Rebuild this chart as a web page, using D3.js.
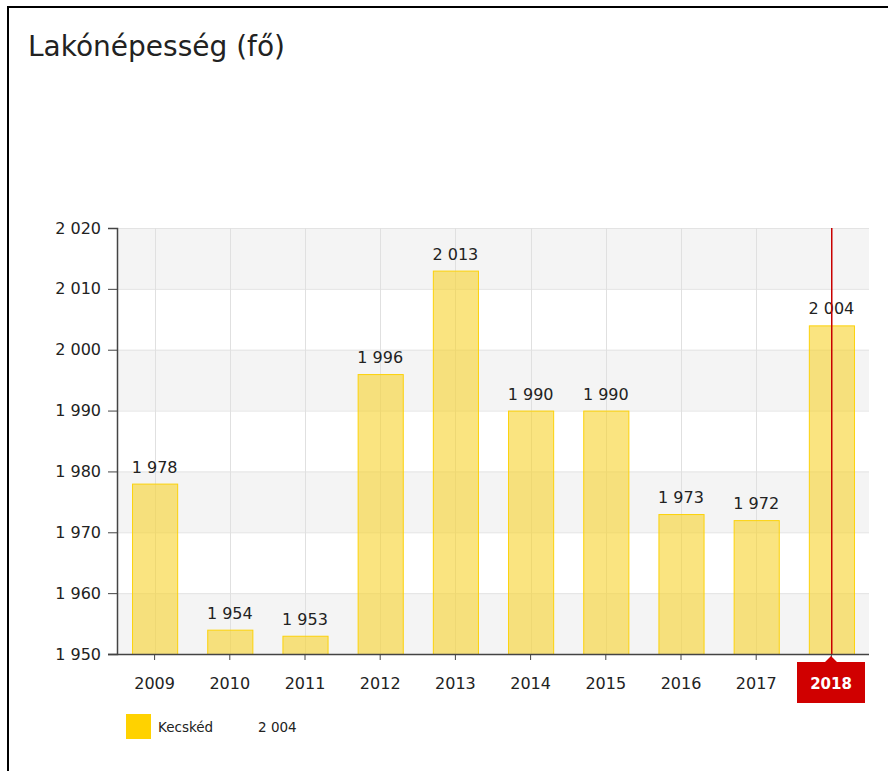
<!DOCTYPE html>
<html>
<head>
<meta charset="utf-8">
<script src="https://cdn.jsdelivr.net/npm/d3@7"></script>
<style>
  html, body { margin: 0; padding: 0; background: #fff; }
  svg { display: block; }
</style>
</head>
<body>
<svg id="chart" width="888" height="771"></svg>
<script>
// Population of Kecskéd by year
const years = ["2009", "2010", "2011", "2012", "2013", "2014", "2015", "2016", "2017", "2018"];
const population = [1978, 1954, 1953, 1996, 2013, 1990, 1990, 1973, 1972, 2004];
const yTicks = [1950, 1960, 1970, 1980, 1990, 2000, 2010, 2020];
const seriesName = "Kecskéd";
const selectedYear = "2018";

const fmt = d3.formatLocale({ decimal: ",", thousands: " ", grouping: [3], currency: ["", ""] }).format(",d");
const font = "'DejaVu Sans', Verdana, sans-serif";

const svg = d3.select("#chart");

// frame lines at top and left
svg.append("line").attr("x1", 8).attr("x2", 888).attr("y1", 7).attr("y2", 7)
  .attr("stroke", "#000").attr("stroke-width", 2);
svg.append("line").attr("x1", 8).attr("x2", 8).attr("y1", 6).attr("y2", 771)
  .attr("stroke", "#000").attr("stroke-width", 2);

svg.append("text").attr("x", 28).attr("y", 56)
  .attr("font-family", font).attr("font-size", 28).attr("fill", "#222")
  .text("Lakónépesség (fő)");

const m = { left: 117, right: 869, top: 228, bottom: 654 };
const x = d3.scaleBand().domain(years).range([m.left, m.right]).paddingInner(0.4).paddingOuter(0.2);
const xc = d => x(d) + x.bandwidth() / 2;
const y = d3.scaleLinear().domain([1950, 2020]).range([m.bottom, m.top]);

// alternating horizontal bands
const g = svg.append("g");
for (let i = 0; i < yTicks.length - 1; i++) {
  if (i % 2 === 0) {
    g.append("rect").attr("x", m.left).attr("width", m.right - m.left)
      .attr("y", y(yTicks[i + 1])).attr("height", y(yTicks[i]) - y(yTicks[i + 1]))
      .attr("fill", "#f4f4f4");
  }
}
// horizontal grid lines
g.selectAll(".hg").data(yTicks.slice(1)).join("line")
  .attr("x1", m.left).attr("x2", m.right)
  .attr("y1", d => y(d) + 0.5).attr("y2", d => y(d) + 0.5)
  .attr("stroke", "#e3e3e3");
// vertical grid lines through category centres
g.selectAll(".vg").data(years).join("line")
  .attr("x1", d => Math.round(xc(d)) + 0.5).attr("x2", d => Math.round(xc(d)) + 0.5)
  .attr("y1", m.top).attr("y2", m.bottom)
  .attr("stroke", "#e0e0e0");

// bars
svg.append("g").selectAll("rect").data(population).join("rect")
  .attr("x", (d, i) => x(years[i]) + 0.5)
  .attr("width", x.bandwidth())
  .attr("y", d => y(d) + 0.5)
  .attr("height", d => y(1950) - y(d))
  .attr("fill", "rgba(247, 212, 50, 0.62)")
  .attr("stroke", "#fcd20a").attr("stroke-width", 1);

// value labels
svg.append("g").selectAll("text").data(population).join("text")
  .attr("x", (d, i) => xc(years[i]))
  .attr("y", d => y(d) - 11)
  .attr("text-anchor", "middle")
  .attr("font-family", font).attr("font-size", 16).attr("fill", "#222")
  .text(d => fmt(d));

// y axis
const yAxis = svg.append("g").attr("transform", `translate(${m.left},0)`)
  .call(d3.axisLeft(y).tickValues(yTicks).tickSize(9).tickPadding(7).tickFormat(fmt));
yAxis.select(".domain").attr("stroke", "#444").attr("stroke-width", 1.5);
yAxis.selectAll(".tick line").attr("stroke", "#444");
yAxis.selectAll("text").attr("font-family", font).attr("font-size", 16).attr("fill", "#222");

// x axis
const xAxis = svg.append("g").attr("transform", `translate(0,${m.bottom})`)
  .call(d3.axisBottom(x).tickSize(6).tickPadding(18).tickSizeOuter(0));
xAxis.select(".domain").attr("stroke", "#444").attr("stroke-width", 1.5)
  .attr("d", `M${m.left - 9},0.5H${m.right}`);
xAxis.selectAll(".tick line").attr("stroke", "#444");
xAxis.selectAll("text").attr("font-family", font).attr("font-size", 16).attr("fill", "#222")
  .attr("opacity", d => d === selectedYear ? 0 : 1);

// cursor line and selected-year badge
const cx = Math.round(xc(selectedYear));
svg.append("rect").attr("x", cx).attr("width", 1.5).attr("y", m.top).attr("height", m.bottom - m.top)
  .attr("fill", "#c80000");
const bw = 68, bh = 41, by = m.bottom + 8;
svg.append("path")
  .attr("d", `M${cx - bw / 2},${by} H${cx - 6} L${cx},${by - 6} L${cx + 6},${by} H${cx + bw / 2} V${by + bh} H${cx - bw / 2} Z`)
  .attr("fill", "#d00000");
svg.append("text").attr("x", cx).attr("y", by + 27).attr("text-anchor", "middle")
  .attr("font-family", font).attr("font-size", 15).attr("font-weight", "bold").attr("fill", "#fff")
  .text(selectedYear);

// legend
const selIdx = years.indexOf(selectedYear);
svg.append("rect").attr("x", 126).attr("y", 714).attr("width", 25).attr("height", 25).attr("fill", "#ffd200");
svg.append("text").attr("x", 158).attr("y", 732)
  .attr("font-family", font).attr("font-size", 13.5).attr("fill", "#222").text(seriesName);
svg.append("text").attr("x", 258).attr("y", 732)
  .attr("font-family", font).attr("font-size", 13.5).attr("fill", "#222").text(fmt(population[selIdx]));
</script>
</body>
</html>
